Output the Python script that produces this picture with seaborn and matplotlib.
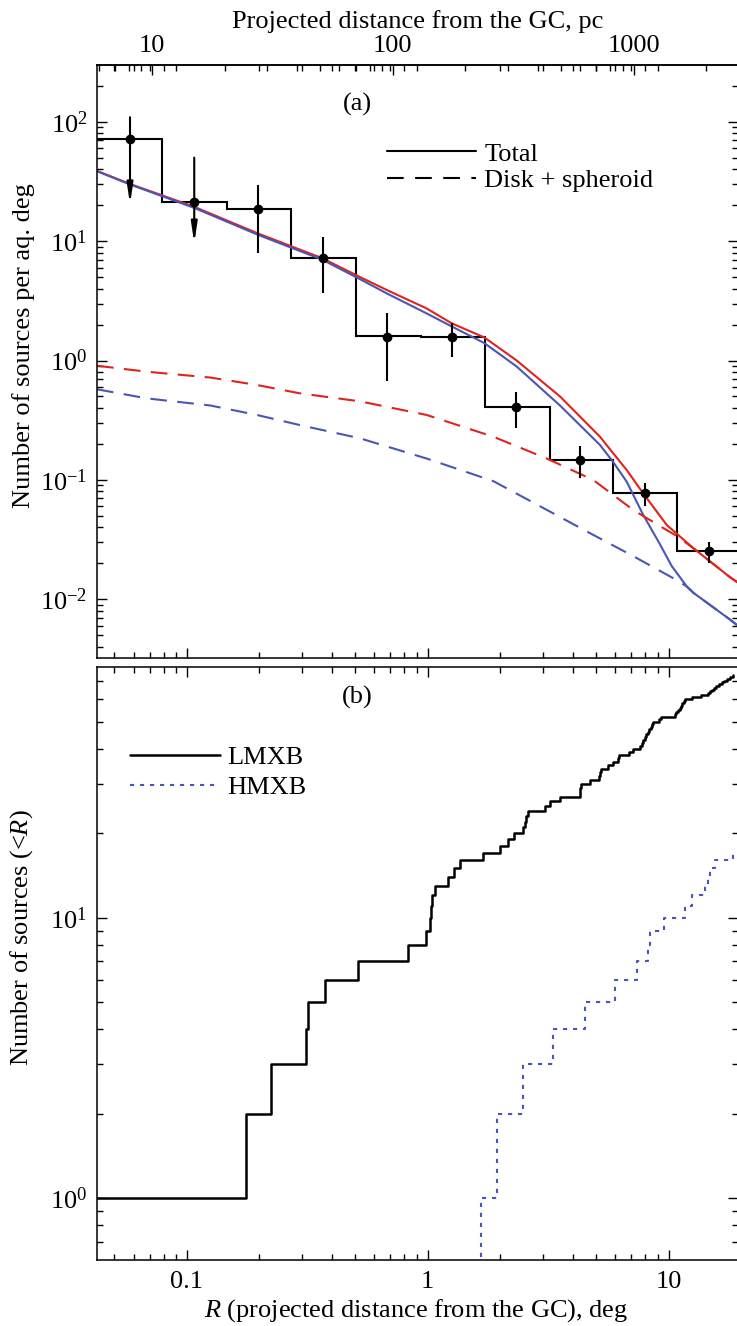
import numpy as np
import matplotlib
matplotlib.use("Agg")
import matplotlib.pyplot as plt
import seaborn as sns
from matplotlib.lines import Line2D
from matplotlib.ticker import FuncFormatter, NullFormatter, FixedLocator

# ---------------- data ----------------
# panel (a): surface density histogram (deg bins)
R_BIN_EDGES = [0.0423, 0.0785, 0.146, 0.271, 0.503, 0.934, 1.73, 3.22, 5.90, 10.85, 20.6]
DENSITY = [71.6, 21.1, 18.6, 7.26, 1.60, 1.57, 0.410, 0.147, 0.0781, 0.0254]
R_POINTS = [0.0580, 0.1072, 0.1977, 0.3661, 0.6752, 1.257, 2.324, 4.287, 7.98, 14.72]
POINT_VAL = [71.6, 21.1, 18.6, 7.26, 1.58, 1.57, 0.410, 0.147, 0.0781, 0.0254]
ERR_HI = [109, 50, 29.5, 10.8, 2.48, 2.05, 0.542, 0.192, 0.0948, 0.0303]
ERR_LO = [20.4, 9.6, 7.9, 3.65, 0.678, 1.08, 0.270, 0.103, 0.0608, 0.020]
UPPER_LIMIT = [True, True, False, False, False, False, False, False, False, False]

# model curves
R_RED = [0.0423, 0.058, 0.107, 0.197, 0.364, 0.523, 0.675, 0.989, 1.256, 1.717,
         2.34, 3.54, 5.19, 5.89, 6.70, 7.85, 9.82, 12.7, 18.0, 19.4]
TOTAL_RED = [38.7, 30.1, 19.4, 11.6, 7.2, 5.0, 3.9, 2.73, 2.05, 1.56,
             1.0, 0.50, 0.23, 0.167, 0.121, 0.077, 0.042, 0.0267, 0.0153, 0.0138]
R_BLUE = [0.0423, 0.058, 0.107, 0.197, 0.364, 0.523, 0.675, 0.989, 1.256, 1.717,
          2.34, 3.54, 5.19, 5.89, 6.70, 7.85, 9.2, 10.3, 11.9, 12.7, 18.0, 19.4]
TOTAL_BLUE = [38.5, 29.8, 19.0, 11.3, 7.0, 4.8, 3.65, 2.48, 1.93, 1.40,
              0.89, 0.42, 0.196, 0.141, 0.0966, 0.0508, 0.029, 0.019, 0.0128, 0.0113, 0.00676, 0.0060]
R_DISK_RED = [0.0423, 0.068, 0.125, 0.195, 0.294, 0.523, 0.989, 1.871, 3.12, 4.87,
              7.13, 9.82, 10.8, 12.7, 18.0, 19.4]
DISK_RED = [0.904, 0.806, 0.72, 0.624, 0.531, 0.455, 0.35, 0.23, 0.151, 0.0998,
            0.056, 0.038, 0.034, 0.0267, 0.0153, 0.0138]
R_DISK_BLUE = [0.0423, 0.068, 0.125, 0.195, 0.294, 0.523, 0.989, 1.871, 3.12, 4.87,
               7.13, 10.47, 11.9, 12.7, 18.0, 19.4]
DISK_BLUE = [0.574, 0.482, 0.42, 0.35, 0.288, 0.223, 0.151, 0.0977, 0.0561, 0.0346,
             0.0230, 0.015, 0.0128, 0.0113, 0.00676, 0.006]

# panel (b): radii (deg) of individual sources, sorted
LMXB_R = [0.03, 0.1758, 0.2227, 0.3121, 0.3190, 0.3742, 0.5145, 0.8251, 0.980, 1.026,
          1.036, 1.046, 1.071, 1.216, 1.288, 1.360, 1.690, 1.994, 2.159, 2.280,
          2.493, 2.522, 2.558, 2.600, 3.066, 3.217, 3.540, 4.286, 4.307, 4.328,
          4.716, 5.140, 5.189, 5.224, 5.617, 5.893, 6.181, 6.241, 6.868, 7.135,
          7.606, 7.753, 7.866, 7.980, 8.094, 8.213, 8.331, 8.451, 8.533, 8.640,
          9.166, 9.256, 10.63, 10.78, 10.94, 11.10, 11.26, 11.42, 11.59, 11.70,
          12.47, 13.63, 14.62, 14.86, 15.15, 15.51, 15.81, 16.19, 16.59, 16.99,
          17.48, 17.99, 18.57]
HMXB_R = [1.66, 1.93, 2.49, 3.30, 4.50, 5.99, 7.37, 8.24, 8.37, 9.57,
          11.70, 12.47, 14.16, 14.62, 14.86, 15.59, 18.58]

X_TICKS = [0.1, 1, 10]
X_TICKLABELS = ["0.1", "1", "10"]
X_MINOR = [0.05, 0.06, 0.07, 0.08, 0.09, 0.2, 0.3, 0.4, 0.5, 0.6, 0.7, 0.8, 0.9,
           2, 3, 4, 5, 6, 7, 8, 9]
PC_TICKS = [10, 100, 1000]
PC_TICKLABELS = ["10", "100", "1000"]
PC_MINOR = [6, 7, 8, 9, 20, 30, 40, 50, 60, 70, 80, 90,
            200, 300, 400, 500, 600, 700, 800, 900, 2000]
PC_PER_DEG = 139.6

RED = "#e0231c"
BLUE = "#4a55b8"

# ---------------- style ----------------
sns.set_theme(style="ticks", rc={
    "axes.edgecolor": "black", "text.color": "black", "axes.labelcolor": "black",
    "xtick.color": "black", "ytick.color": "black", "axes.linewidth": 1.1,
})
plt.rcParams["font.family"] = ["Liberation Serif", "DejaVu Serif"]
plt.rcParams["mathtext.fontset"] = "custom"
plt.rcParams["mathtext.rm"] = "Liberation Serif"
plt.rcParams["mathtext.it"] = "Liberation Serif:italic"
FS = 19

W, H = 737, 1326
fig = plt.figure(figsize=(W / 100, H / 100), dpi=100)


def px_rect(l, t, r, b):
    return [l / W, 1 - b / H, (r - l) / W, (b - t) / H]


ax1 = fig.add_axes(px_rect(97, 65, 738, 658))
ax2 = fig.add_axes(px_rect(97, 667, 738, 1260))

# ---------------- panel (a) ----------------
ax1.stairs(DENSITY, R_BIN_EDGES, baseline=None, color="black", lw=1.5)
sns.lineplot(x=R_RED, y=TOTAL_RED, ax=ax1, color=RED, lw=1.5, estimator=None, sort=False)
sns.lineplot(x=R_BLUE, y=TOTAL_BLUE, ax=ax1, color=BLUE, lw=1.5, estimator=None, sort=False)
sns.lineplot(x=R_DISK_RED, y=DISK_RED, ax=ax1, color=RED, lw=1.5, estimator=None,
             sort=False, linestyle=(0, (8, 5)))
sns.lineplot(x=R_DISK_BLUE, y=DISK_BLUE, ax=ax1, color=BLUE, lw=1.5, estimator=None,
             sort=False, linestyle=(0, (8, 5)))

rp = np.array(R_POINTS)
pv = np.array(POINT_VAL)
hi = np.array(ERR_HI)
lo = np.array(ERR_LO)
ul = np.array(UPPER_LIMIT)
det = ~ul
ax1.errorbar(rp[det], pv[det], yerr=[pv[det] - lo[det], hi[det] - pv[det]],
             fmt="o", color="black", ms=6, elinewidth=1.5, capsize=0, zorder=5)
ax1.plot(rp[ul], pv[ul], "o", color="black", ms=6, zorder=5)
for x, top, tip in zip(rp[ul], hi[ul], lo[ul]):
    ax1.annotate("", xy=(x, tip), xytext=(x, top),
                 arrowprops=dict(arrowstyle="-|>,head_length=0.8,head_width=0.12",
                                 color="black", lw=1.5, shrinkA=0, shrinkB=0,
                                 mutation_scale=15))

# ---------------- panel (b) ----------------
lm_n = np.arange(1, len(LMXB_R) + 1)
hm_x = np.r_[HMXB_R[0], HMXB_R]
hm_n = np.arange(0, len(HMXB_R) + 1)
sns.lineplot(x=LMXB_R, y=lm_n, ax=ax2, color="black", lw=1.8, estimator=None,
             sort=False, drawstyle="steps-post")
sns.lineplot(x=hm_x, y=hm_n, ax=ax2, color=BLUE, lw=1.5, estimator=None,
             sort=False, drawstyle="steps-post", linestyle=(0, (2, 2.8)))

# ---------------- axes ----------------
for ax in (ax1, ax2):
    ax.set_xscale("log")
    ax.set_yscale("log")
    ax.set_xlim(0.0423, 19.42)
    ax.xaxis.set_major_locator(FixedLocator(X_TICKS))
    ax.xaxis.set_minor_locator(FixedLocator(X_MINOR))
    ax.tick_params(which="both", direction="in", top=True, right=True,
                   labelsize=FS, width=1.0)
    ax.tick_params(which="major", length=7.5, pad=7)
    ax.tick_params(which="minor", length=4.5)
    ax.xaxis.set_minor_formatter(NullFormatter())
    ax.yaxis.set_minor_formatter(NullFormatter())
    for s in ax.spines.values():
        s.set_linewidth(1.1)

ax1.set_ylim(0.003224, 298.5)
ax2.set_ylim(0.6027, 78.23)

ax1.tick_params(axis="x", top=False, labelbottom=False)
ax2.set_xticklabels(X_TICKLABELS)
ax2.tick_params(axis="x", pad=8)

sec = ax1.secondary_xaxis("top", functions=(lambda d: d * PC_PER_DEG,
                                            lambda p: p / PC_PER_DEG))
sec.xaxis.set_major_locator(FixedLocator(PC_TICKS))
sec.xaxis.set_minor_locator(FixedLocator(PC_MINOR))
sec.set_xticklabels(PC_TICKLABELS)
sec.xaxis.set_minor_formatter(NullFormatter())
sec.tick_params(which="both", direction="in", labelsize=FS, width=1.0, pad=6)
sec.tick_params(which="major", length=7.5)
sec.tick_params(which="minor", length=4.5)
sec.set_xlabel("Projected distance from the GC, pc", fontsize=FS, labelpad=5)

ax1.set_ylabel("Number of sources per aq. deg", fontsize=FS)
ax1.yaxis.set_label_coords(-0.096, 0.526)
ax2.set_ylabel("Number of sources (<$\\mathit{R}$)", fontsize=FS)
ax2.yaxis.set_label_coords(-0.096, 0.544)
ax2.set_xlabel("$\\mathit{R}$ (projected distance from the GC), deg", fontsize=FS)
ax2.xaxis.set_label_coords(0.498, -0.062)

ax1.text(0.4056, 0.933, "(a)", transform=ax1.transAxes, ha="center", va="center", fontsize=FS)
ax2.text(0.4056, 0.949, "(b)", transform=ax2.transAxes, ha="center", va="center", fontsize=FS)

h1 = [Line2D([], [], color="black", lw=1.5),
      Line2D([], [], color="black", lw=1.5, linestyle=(0, (8, 5.5)))]
ax1.legend(h1, ["Total", "Disk + spheroid"], loc="upper left",
           bbox_to_anchor=(0.452, 0.870), frameon=False, fontsize=FS,
           borderpad=0, borderaxespad=0, handlelength=3.4, handletextpad=0.3,
           labelspacing=0.12)
h2 = [Line2D([], [], color="black", lw=1.8),
      Line2D([], [], color=BLUE, lw=1.5, linestyle=(0, (2, 2.8)))]
ax2.legend(h2, ["LMXB", "HMXB"], loc="upper left",
           bbox_to_anchor=(0.0515, 0.867), frameon=False, fontsize=FS,
           borderpad=0, borderaxespad=0, handlelength=3.4, handletextpad=0.3,
           labelspacing=0.25)

fig.savefig("out.png", dpi=100)
